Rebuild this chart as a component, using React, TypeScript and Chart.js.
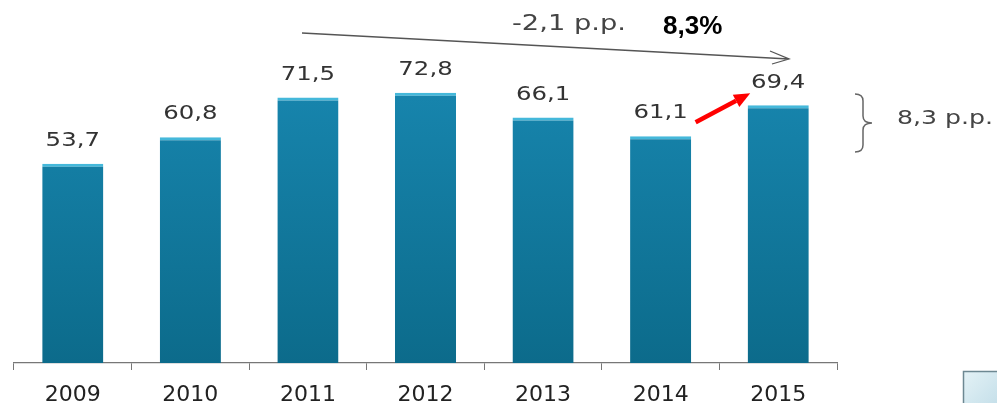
import React, { useEffect, useRef } from "react";
import { Chart, registerables } from "chart.js";

Chart.register(...registerables);

const categories = ["2009", "2010", "2011", "2012", "2013", "2014", "2015"];
const values = [53.7, 60.8, 71.5, 72.8, 66.1, 61.1, 69.4];
const valueLabels = ["53,7", "60,8", "71,5", "72,8", "66,1", "61,1", "69,4"];
const overallChangeLabel = "-2,1 p.p.";
const growthLabel = "8,3%";
const braceLabel = "8,3 p.p.";

const STRETCH = 1.22;

function stretchedText(ctx: CanvasRenderingContext2D, text: string, x: number, y: number, align: "center" | "left", sx = STRETCH) {
  ctx.save();
  ctx.translate(x, y);
  ctx.scale(sx, 1);
  ctx.textAlign = align;
  ctx.textBaseline = "middle";
  ctx.fillText(text, 0, 0);
  ctx.restore();
}

const overlayPlugin = {
  id: "overlay",
  afterDatasetsDraw(chart: any) {
    const ctx: CanvasRenderingContext2D = chart.ctx;
    const meta = chart.getDatasetMeta(0);
    const yScale = chart.scales.y;
    const xScale = chart.scales.x;

    // value labels
    ctx.save();
    ctx.fillStyle = "#333333";
    ctx.font = "20px 'DejaVu Sans'";
    meta.data.forEach((bar: any, i: number) => {
      stretchedText(ctx, valueLabels[i], bar.x, bar.y - 23, "center");
    });
    ctx.restore();

    // long thin arrow
    ctx.save();
    ctx.strokeStyle = "#555555";
    ctx.lineWidth = 1.3;
    ctx.beginPath();
    ctx.moveTo(302, 33);
    ctx.lineTo(789, 59);
    ctx.moveTo(770, 51);
    ctx.lineTo(789, 59);
    ctx.lineTo(772, 64);
    ctx.stroke();
    ctx.restore();

    // top texts
    ctx.save();
    ctx.fillStyle = "#444444";
    ctx.font = "21px 'DejaVu Sans'";
    stretchedText(ctx, overallChangeLabel, 512, 25, "left", 1.3);
    ctx.fillStyle = "#000000";
    ctx.font = "bold 26px 'Liberation Sans'";
    ctx.textAlign = "left";
    ctx.textBaseline = "middle";
    ctx.fillText(growthLabel, 663, 27);
    ctx.restore();

    // red arrow between 2014 and 2015 labels
    const x14 = xScale.getPixelForValue(5);
    const x15 = xScale.getPixelForValue(6);
    const y14 = yScale.getPixelForValue(values[5]);
    const y15 = yScale.getPixelForValue(values[6]);
    const sx = x14 + 35, sy = y14 - 14;
    const ex = x15 - 28, ey = y15 - 12;
    const ang = Math.atan2(ey - sy, ex - sx);
    const headLen = 16, headW = 7;
    const bx = ex - headLen * Math.cos(ang), by = ey - headLen * Math.sin(ang);
    ctx.save();
    ctx.strokeStyle = "#ff0000";
    ctx.fillStyle = "#ff0000";
    ctx.lineWidth = 4.5;
    ctx.beginPath();
    ctx.moveTo(sx, sy);
    ctx.lineTo(bx, by);
    ctx.stroke();
    ctx.beginPath();
    ctx.moveTo(ex, ey);
    ctx.lineTo(bx + headW * Math.sin(ang), by - headW * Math.cos(ang));
    ctx.lineTo(bx - headW * Math.sin(ang), by + headW * Math.cos(ang));
    ctx.closePath();
    ctx.fill();
    ctx.restore();

    // brace
    ctx.save();
    ctx.strokeStyle = "#666666";
    ctx.lineWidth = 1.5;
    ctx.beginPath();
    ctx.moveTo(855, 94);
    ctx.quadraticCurveTo(863, 94, 863, 101);
    ctx.lineTo(863, 116);
    ctx.quadraticCurveTo(863, 123, 872, 123);
    ctx.quadraticCurveTo(863, 123, 863, 130);
    ctx.lineTo(863, 145);
    ctx.quadraticCurveTo(863, 152, 855, 152);
    ctx.stroke();
    ctx.fillStyle = "#444444";
    ctx.font = "20px 'DejaVu Sans'";
    stretchedText(ctx, braceLabel, 897, 119, "left", 1.26);
    ctx.restore();

    // partial box bottom right
    ctx.save();
    const g = ctx.createLinearGradient(963, 371, 997, 403);
    g.addColorStop(0, "#e4f2f6");
    g.addColorStop(1, "#c6e0ea");
    ctx.fillStyle = g;
    ctx.fillRect(963, 371, 40, 60);
    ctx.strokeStyle = "#6d8892";
    ctx.lineWidth = 1.5;
    ctx.beginPath();
    ctx.moveTo(963.5, 430);
    ctx.lineTo(963.5, 371.5);
    ctx.lineTo(1000, 371.5);
    ctx.stroke();
    ctx.restore();
  },
};

export default function App() {
  const ref = useRef<HTMLCanvasElement | null>(null);

  useEffect(() => {
    document.body.style.margin = "0";
    const canvas = ref.current;
    if (!canvas) return;
    const chart = new Chart(canvas, {
      type: "bar",
      data: {
        labels: categories,
        datasets: [
          {
            data: values,
            backgroundColor: (c: any) => {
              const area = c.chart.chartArea;
              if (!area) return "#147ea6";
              const grad = c.chart.ctx.createLinearGradient(0, area.top, 0, area.bottom);
              grad.addColorStop(0, "#1887b0");
              grad.addColorStop(1, "#0c6b8b");
              return grad;
            },
            borderColor: "#45b8da",
            borderWidth: { top: 3, left: 0, right: 0, bottom: 0 },
            borderSkipped: false,
            categoryPercentage: 1,
            barPercentage: 0.52,
          },
        ],
      },
      options: {
        animation: false,
        responsive: true,
        maintainAspectRatio: false,
        layout: { padding: { left: 14, right: 160, top: 66, bottom: 0 } },
        plugins: {
          legend: { display: false },
          tooltip: { enabled: false },
        },
        scales: {
          y: {
            display: false,
            min: 0,
            max: 80,
          },
          x: {
            grid: {
              display: true,
              drawOnChartArea: false,
              drawTicks: true,
              tickLength: 7,
              color: "#777777",
              offset: true,
            },
            border: { display: true, color: "#777777", width: 1.3 },
            ticks: {
              color: "#222222",
              font: { family: "'DejaVu Sans'", size: 22, lineHeight: 1.0 },
              padding: 14,
            },
          },
        },
      },
      plugins: [overlayPlugin],
    });
    return () => chart.destroy();
  }, []);

  return (
    <div style={{ position: "fixed", left: 0, top: 0, width: 997, height: 403, overflow: "hidden", background: "#ffffff" }}>
      <div style={{ position: "relative", width: 997, height: 420 }}>
        <canvas ref={ref} />
      </div>
    </div>
  );
}
